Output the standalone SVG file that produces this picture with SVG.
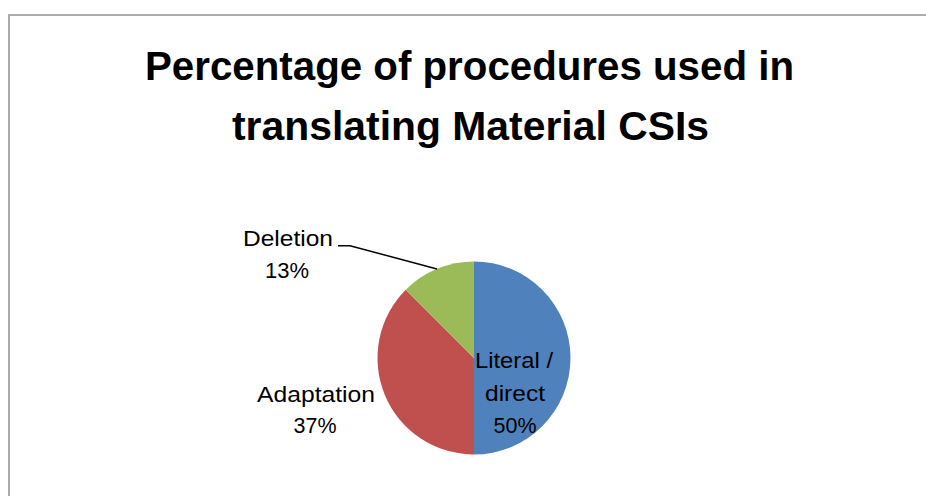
<svg xmlns="http://www.w3.org/2000/svg" width="926" height="496" viewBox="0 0 926 496">
  <style>
    .frame { fill: #ffffff; stroke: #a0a0a0; stroke-width: 1.75; }
    .title { font-family: "Liberation Sans", Arial, sans-serif; font-weight: bold; font-size: 40px; fill: #000000; }
    .label { font-family: "Liberation Sans", Arial, sans-serif; font-size: 22.5px; fill: #000000; }
    .leader { fill: none; stroke: #000000; stroke-width: 1.5; }
  </style>
  <rect width="926" height="496" fill="#ffffff"/>
  <!-- chart frame, open past the right and bottom edges -->
  <rect class="frame" x="9" y="15" width="940" height="510"/>

  <g id="title">
    <text class="title" x="145" y="80" textLength="649" lengthAdjust="spacingAndGlyphs">Percentage of procedures used in</text>
    <text class="title" x="232" y="139.5" textLength="477" lengthAdjust="spacingAndGlyphs">translating Material CSIs</text>
  </g>

  <!-- pie: centre (474,358), radius 96.5; 50% / 37.5% / 12.5% clockwise from top -->
  <g id="slice-literal">
    <path d="M474,358 L474,261.5 A96.5,96.5 0 0 1 474,454.5 Z" fill="#4f81bd"/>
  </g>
  <g id="slice-adaptation">
    <path d="M474,358 L474,454.5 A96.5,96.5 0 0 1 405.76,289.76 Z" fill="#c0504d"/>
  </g>
  <g id="slice-deletion">
    <path d="M474,358 L405.76,289.76 A96.5,96.5 0 0 1 474,261.5 Z" fill="#9bbb59"/>
  </g>

  <g id="connectors">
    <polyline class="leader" points="338,245.7 350,245.7 437,269"/>
  </g>

  <g id="label-deletion">
    <text class="label" x="243" y="246" textLength="90" lengthAdjust="spacingAndGlyphs">Deletion</text>
    <text class="label" x="265" y="278.3" textLength="44" lengthAdjust="spacingAndGlyphs">13%</text>
  </g>
  <g id="label-adaptation">
    <text class="label" x="257" y="401.7" textLength="118" lengthAdjust="spacingAndGlyphs">Adaptation</text>
    <text class="label" x="293.5" y="433.3" textLength="43" lengthAdjust="spacingAndGlyphs">37%</text>
  </g>
  <g id="label-literal">
    <text class="label" x="475" y="368.3" textLength="78" lengthAdjust="spacingAndGlyphs">Literal /</text>
    <text class="label" x="485" y="401" textLength="60" lengthAdjust="spacingAndGlyphs">direct</text>
    <text class="label" x="493.5" y="432.7" textLength="43" lengthAdjust="spacingAndGlyphs">50%</text>
  </g>
</svg>
